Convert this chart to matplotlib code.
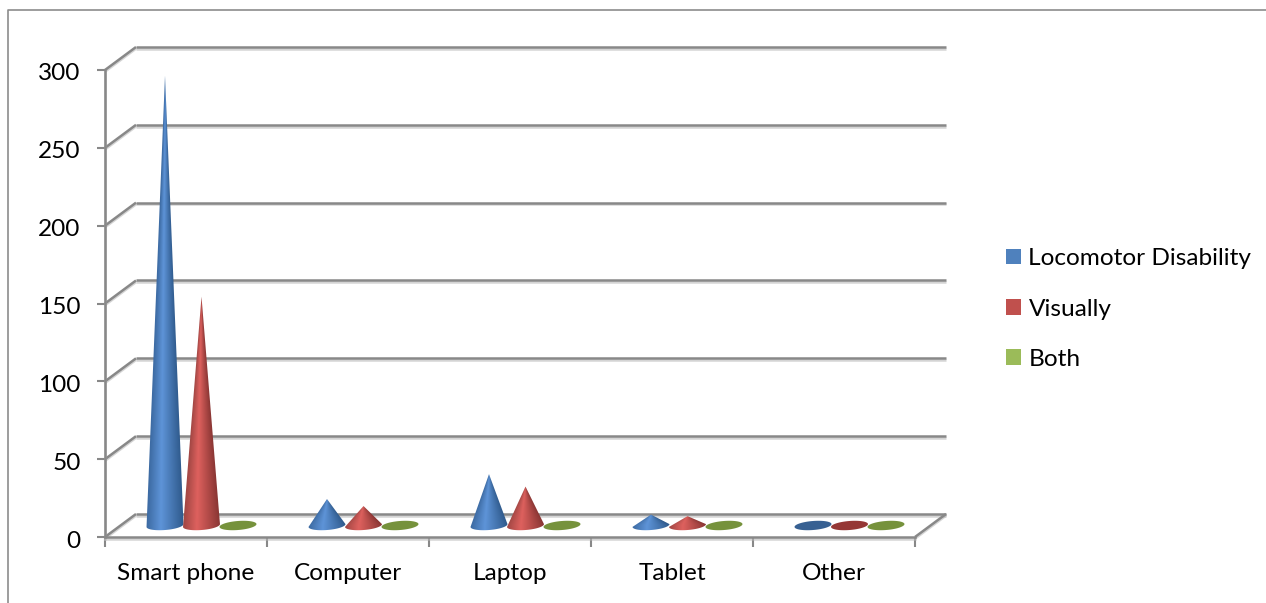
import numpy as np
import matplotlib
matplotlib.use('Agg')
import matplotlib.pyplot as plt
import matplotlib.patheffects as pe
from matplotlib.lines import Line2D
from matplotlib.patches import Patch, Polygon
from matplotlib.transforms import ScaledTranslation

categories = ['Smart phone', 'Computer', 'Laptop', 'Tablet', 'Other']
locomotor = [289, 17, 33, 7, 0]
visually = [147, 12.5, 25, 6, 0]
both = [0, 0, 0, 0, 0]
y_ticks = [0, 50, 100, 150, 200, 250, 300]

series_names = ['Locomotor Disability', 'Visually', 'Both']
swatch_colors = ['#4f81bd', '#c0504d', '#9bbb59']
flat_colors = ['#376092', '#953735', '#76923c']
# dark edge, highlight, dark edge for the cone shading
ramps = [('#3d6ba3', '#5e94d8', '#2f5a8c'),
         ('#a04643', '#de615e', '#8a3634'),
         ('#6b8636', '#86a545', '#667f33')]

GRID = '#888888'
W, H = 1266, 603
FONT_SIZE = 17.6

# depth of the pseudo 3D box, in data units
DEPTH_X = 31 / 162
DEPTH_Y = 23 / (467 / 300)
CONE_A = 0.114   # half width of a cone base
CONE_B = 2.9     # half height of a cone base
CONE_K = 0.9     # tilt of the base ellipse
SPACING = 36.5 / 162

plt.rcParams['font.family'] = ['Lato', 'DejaVu Sans']

fig = plt.figure(figsize=(W / 100, H / 100), dpi=100)
ax = fig.add_axes([105 / W, 1 - 537 / H, 810 / W, 467 / H])
ax.patch.set_visible(False)

shadow = [pe.SimpleLineShadow(offset=(0, -1.2), shadow_color='#b8b8b8', alpha=0.6), pe.Normal()]


def box_line(xs, ys):
    ax.plot(xs, ys, color=GRID, lw=1.8, clip_on=False, solid_capstyle='butt',
            path_effects=shadow, zorder=1)


# back wall lines and the slanted side wall
for v in y_ticks:
    box_line([0, DEPTH_X], [v, v + DEPTH_Y])
    box_line([DEPTH_X, 5 + DEPTH_X], [v + DEPTH_Y, v + DEPTH_Y])
box_line([5, 5 + DEPTH_X], [0, DEPTH_Y])


def hex_rgb(c):
    return np.array(matplotlib.colors.to_rgb(c))


def cone(cx, base, value, ramp, flat):
    t = np.linspace(np.pi, 2 * np.pi, 80)
    ex = cx + CONE_A * np.cos(t)
    ey = base + CONE_B * np.sin(t) + CONE_K * np.cos(t)
    if value == 0:
        t = np.linspace(0, 2 * np.pi, 120)
        pts = np.column_stack([cx + CONE_A * np.cos(t),
                               base + CONE_B * np.sin(t) + CONE_K * np.cos(t)])
        ax.add_patch(Polygon(pts, closed=True, fc=flat, ec='none', clip_on=False, zorder=3))
        return
    tip = base + value
    pts = np.column_stack([np.r_[ex, cx], np.r_[ey, tip]])
    outline = Polygon(pts, closed=True, fc='none', ec='none', transform=ax.transData)
    ax.add_patch(outline)
    outline.set_clip_on(False)

    # shading follows the cone surface, so columns converge on the tip
    x0, x1 = cx - CONE_A * 1.05, cx + CONE_A * 1.05
    y0, y1 = base - CONE_B * 1.5, tip
    gx, gy = np.meshgrid(np.linspace(x0, x1, 120), np.linspace(y0, y1, 500))
    frac = np.clip(1 - (gy - base) / value, 0.002, 1)
    u = np.clip((gx - cx) / (CONE_A * frac), -1, 1)
    stops = [-1, -0.25, 1]
    rgb = np.dstack([np.interp(u, stops, [hex_rgb(c)[i] for c in ramp]) for i in range(3)])
    im = ax.imshow(rgb, origin='lower', extent=[x0, x1, y0, y1], aspect='auto',
                   interpolation='bilinear', zorder=3)
    im.set_clip_path(outline)


for i in range(len(categories)):
    cx = i + 0.5 + DEPTH_X / 2
    for s, values in [(2, both), (0, locomotor), (1, visually)]:
        cone(cx + (s - 1) * SPACING, DEPTH_Y / 2, values[i], ramps[s], flat_colors[s])

ax.set_xlim(0, 5)
ax.set_ylim(0, 300)

for side in ['top', 'right']:
    ax.spines[side].set_visible(False)
for side in ['left', 'bottom']:
    ax.spines[side].set_color(GRID)
    ax.spines[side].set_linewidth(1.8)
    ax.spines[side].set_path_effects(shadow)

ax.set_yticks(y_ticks)
ax.tick_params(axis='y', length=6, width=1.5, color=GRID, labelsize=FONT_SIZE, pad=11.5)
ax.set_xticks(range(6))
ax.set_xticklabels([])
ax.set_xticks(np.arange(5) + 0.5, categories, minor=True)
ax.tick_params(axis='x', which='major', length=7, width=1.5, color=GRID)
ax.tick_params(axis='x', which='minor', length=0, labelsize=FONT_SIZE, pad=19)

# nudge the value labels down so they sit level with their ticks
nudge = ScaledTranslation(0, -2 / 100, fig.dpi_scale_trans)
for label in ax.get_yticklabels():
    label.set_transform(label.get_transform() + nudge)

handles = [Patch(fc=c, ec='none') for c in swatch_colors]
fig.legend(handles, series_names, loc='center left', bbox_to_anchor=(1006 / W, 1 - 309 / H),
           borderaxespad=0, borderpad=0, frameon=False, fontsize=FONT_SIZE,
           handlelength=0.62, handleheight=0.62, handletextpad=0.3, labelspacing=1.2)

# outer chart frame, only the top and left edges are visible
fig.add_artist(Line2D([8 / W, 8 / W, 1], [0, 1 - 10 / H, 1 - 10 / H], color='#8c8c8c', lw=1.2))

fig.savefig('out.png', dpi=100)
